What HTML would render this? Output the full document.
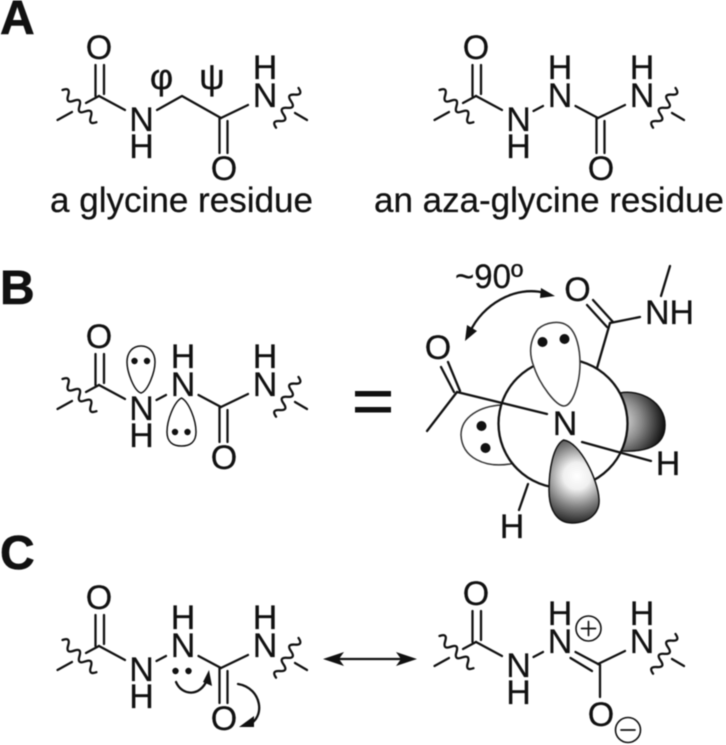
<!DOCTYPE html>
<html>
<head>
<meta charset="utf-8">
<style>
html,body{margin:0;padding:0;background:#fff;width:726px;height:745px;overflow:hidden}
svg{display:block;filter:blur(0.45px)}
text{font-family:"Liberation Sans",sans-serif;font-size:34px;fill:#111;stroke:#111;stroke-width:.25;text-anchor:middle}
.l{font-weight:bold;font-size:48px;text-anchor:start;stroke-width:.6}
.cap{font-size:35px;text-anchor:start}
path,line{fill:none;stroke:#111;stroke-width:2.3;stroke-linecap:round;stroke-linejoin:round}
.g{stroke:#333;stroke-width:1.5}
.dk{stroke:#111;stroke-width:1.5}
.d{fill:#111;stroke:none}
.ah{fill:#111;stroke:none}
</style>
</head>
<body>
<svg width="726" height="745" viewBox="0 0 726 745" xmlns="http://www.w3.org/2000/svg">
<defs>
<radialGradient id="gr" gradientUnits="userSpaceOnUse" cx="618" cy="421" r="47">
<stop offset="0" stop-color="#eee"/><stop offset=".5" stop-color="#888"/><stop offset=".85" stop-color="#333"/><stop offset="1" stop-color="#111"/>
</radialGradient>
<radialGradient id="gb" gradientUnits="userSpaceOnUse" cx="577" cy="476" r="48">
<stop offset="0" stop-color="#fff"/><stop offset=".28" stop-color="#f0f0f0"/><stop offset=".65" stop-color="#808080"/><stop offset="1" stop-color="#222"/>
</radialGradient>
<g id="ends">
<path transform="translate(62.500,90) rotate(43.500)" d="M0,0 q3.900,-8 7.800,0 t7.800,0 t7.800,0 t7.800,0 t7.800,0 t7.800,0"/>
<line x1="57.500" y1="120" x2="72" y2="112"/>
<line x1="86" y1="103" x2="99" y2="96"/>
<line x1="99" y1="96" x2="125" y2="110"/>
<line x1="95.500" y1="65" x2="95.500" y2="96"/>
<line x1="104" y1="65" x2="104" y2="94"/>
<line x1="221" y1="118" x2="248" y2="105"/>
<path transform="translate(298.500,88) rotate(119.500)" d="M0,0 q3.800,-8 7.600,0 t7.600,0 t7.600,0 t7.600,0 t7.600,0 t7.600,0"/>
<line x1="295" y1="113" x2="307" y2="120"/>
</g>
<g id="co">
<line x1="219.500" y1="118" x2="219.500" y2="153"/>
<line x1="227.500" y1="121" x2="227.500" y2="153"/>
</g>
<g id="nn">
<line x1="156.500" y1="111" x2="166" y2="106"/>
<line x1="198.500" y1="106" x2="221" y2="118"/>
</g>
</defs>

<text class="l" x="0" y="34">A</text>
<text class="l" x="0" y="304">B</text>
<text class="l" x="0" y="569">C</text>

<!-- A left -->
<use href="#ends"/><use href="#co"/>
<path d="M157,110 L182,96 L221,118"/>
<text x="99" y="59">O</text><text x="141.500" y="131">N</text><text x="141.500" y="158">H</text>
<text x="265" y="107">N</text><text x="265" y="79">H</text><text x="224" y="180">O</text>
<text x="161.500" y="89" style="font-size:36px">φ</text><text x="212" y="89" style="font-size:36px">ψ</text>
<text class="cap" x="50" y="212" textLength="263" lengthAdjust="spacingAndGlyphs">a glycine residue</text>

<!-- A right -->
<g transform="translate(377,0)">
<use href="#ends"/><use href="#co"/><use href="#nn"/>
<text x="99" y="59">O</text><text x="141.500" y="131">N</text><text x="141.500" y="158">H</text>
<text x="183" y="107">N</text><text x="183" y="79">H</text>
<text x="265" y="107">N</text><text x="265" y="79">H</text><text x="224" y="180">O</text>
</g>
<text class="cap" x="374" y="212" textLength="350" lengthAdjust="spacingAndGlyphs">an aza-glycine residue</text>

<!-- B left -->
<g transform="translate(0,289)">
<use href="#ends"/><use href="#co"/><use href="#nn"/>
<text x="99" y="59">O</text><text x="141.500" y="131">N</text><text x="141.500" y="158">H</text>
<text x="183" y="107">N</text><text x="183" y="79">H</text>
<text x="265" y="107">N</text><text x="265" y="79">H</text><text x="224" y="180">O</text>
</g>
<path class="dk" d="M141,393 C134,391 127,372 127,362 C127,352 133,346 141,346 C149,346 155,352 155,362 C155,372 148,391 141,393Z"/>
<circle class="d" cx="134.500" cy="361" r="3.200"/><circle class="d" cx="147" cy="361" r="3.200"/>
<path class="dk" d="M181.500,398 C174,402 167,420 167,432 C167,442 173,446 181.500,446 C190,446 196,442 196,432 C196,420 189,402 181.500,398Z"/>
<circle class="d" cx="175" cy="432" r="3.200"/><circle class="d" cx="187.500" cy="432" r="3.200"/>

<!-- equals -->
<rect x="355" y="391" width="36" height="5.500" fill="#111"/>
<rect x="355" y="407" width="36" height="5.500" fill="#111"/>

<!-- Newman -->
<path style="fill:url(#gr)" class="dk" d="M620,393 C640,389 665,402 665,425 C665,447 645,452 622,451Z"/>
<path class="g" style="fill:#fff" d="M502,405 C480,406 461,417 461,435 C462,458 485,468 510,464 L530,460Z"/>
<circle cx="563" cy="423.500" r="64.500" stroke="#111" stroke-width="2.300" style="fill:#fff"/>
<path class="g" style="fill:#fff" d="M534,367 C528,352 530,340 538,329 C546,322 560,320 568,326 C577,333 580,350 580,363 C580,385 572,406 564,406 C556,406 540,385 534,367Z"/>
<path style="fill:url(#gb)" class="dk" d="M563.500,440 C553,446 549,470 549,490 C549,510 557,523 572,523 C590,523 600,512 599,499 C598,480 580,442 563.500,440Z"/>
<line x1="597" y1="368" x2="610" y2="323"/>
<line x1="610" y1="323" x2="640" y2="317"/>
<line x1="593" y1="300" x2="613" y2="322"/>
<line x1="587" y1="305" x2="607" y2="327"/>
<line x1="661" y1="296" x2="670" y2="266"/>
<line x1="441" y1="367" x2="454" y2="392"/>
<line x1="448" y1="362" x2="460" y2="391"/>
<line x1="457" y1="392" x2="547" y2="414"/>
<line x1="457" y1="392" x2="427" y2="431"/>
<line x1="582" y1="442" x2="651" y2="461"/>
<line x1="528" y1="484" x2="519" y2="510"/>
<text x="565" y="435">N</text>
<text x="577.500" y="301">O</text>
<text x="438" y="359">O</text>
<text x="669.500" y="324">NH</text>
<text x="668" y="475">H</text>
<text x="512" y="538">H</text>
<text x="489" y="288" textLength="68" lengthAdjust="spacingAndGlyphs">~90º</text>
<circle class="d" cx="542.500" cy="342" r="5"/><circle class="d" cx="564.500" cy="339" r="5"/>
<circle class="d" cx="481.500" cy="426" r="5"/><circle class="d" cx="485.500" cy="448" r="5"/>
<path d="M470,332 C482,305 515,285 545,293"/>
<path class="ah" d="M555,296 L540,298 L541,288 Z"/>
<path class="ah" d="M465,341 L467,325 L477,331 Z"/>

<!-- C left -->
<g transform="translate(0,550)">
<use href="#ends"/><use href="#co"/><use href="#nn"/>
<text x="99" y="59">O</text><text x="141.500" y="131">N</text><text x="141.500" y="158">H</text>
<text x="183" y="107">N</text><text x="183" y="79">H</text>
<text x="265" y="107">N</text><text x="265" y="79">H</text><text x="224" y="180">O</text>
</g>
<circle class="d" cx="175.500" cy="671" r="3.200"/><circle class="d" cx="188.500" cy="671" r="3.200"/>
<path d="M176,682 C182,696 200,697 207,680"/>
<path class="ah" d="M209,670 L212,686 L203,682 Z"/>
<path d="M238,684 C262,688 266,718 248,725"/>
<path class="ah" d="M239,727 L254,716 L254,727 Z"/>

<!-- double arrow -->
<line x1="335" y1="659" x2="410" y2="659"/>
<path class="ah" d="M323,659 L344,652 L339,659 L344,666 Z"/>
<path class="ah" d="M417,659 L396,652 L401,659 L396,666 Z"/>

<!-- C right -->
<g transform="translate(377,546)">
<use href="#ends"/>
<line x1="156.500" y1="111" x2="166" y2="106"/>
<line x1="198.500" y1="106" x2="223" y2="119"/>
<line x1="193.500" y1="112" x2="215" y2="125"/>
<line x1="223" y1="119" x2="223" y2="151"/>
<text x="99" y="59">O</text><text x="141.500" y="131">N</text><text x="141.500" y="158">H</text>
<text x="183" y="107">N</text><text x="183" y="79">H</text>
<text x="265" y="107">N</text><text x="265" y="79">H</text><text x="224" y="180">O</text>
</g>
<circle cx="588.500" cy="628.500" r="12.500" stroke="#111" stroke-width="1.600" style="fill:none"/>
<line x1="581.500" y1="628.500" x2="595.500" y2="628.500" style="stroke-width:1.700"/>
<line x1="588.500" y1="621.500" x2="588.500" y2="635.500" style="stroke-width:1.700"/>
<circle cx="628" cy="730" r="12.500" stroke="#111" stroke-width="1.600" style="fill:none"/>
<line x1="621" y1="730" x2="635" y2="730" style="stroke-width:1.700"/>
</svg>
</body>
</html>
